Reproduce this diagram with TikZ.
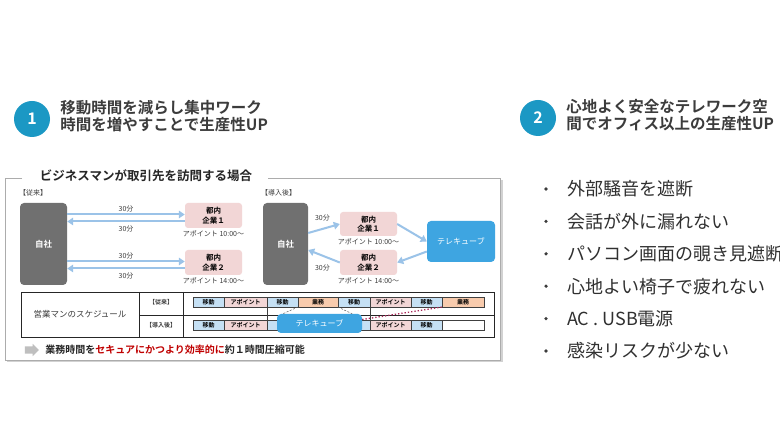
\documentclass[tikz,border=0pt]{standalone}
\usepackage{fontspec}
\setmainfont{Noto Sans CJK JP}[BoldFont={Noto Sans CJK JP Bold}]
\usepackage{tikz}
\usetikzlibrary{positioning, arrows.meta, shapes.arrows}
\definecolor{Ink}{RGB}{60,60,60}
\definecolor{Teal}{RGB}{27,152,196}
\definecolor{Base}{RGB}{112,112,112}
\definecolor{Firm}{RGB}{242,214,214}
\definecolor{Cube}{RGB}{62,165,225}
\definecolor{Link}{RGB}{155,195,232}
\definecolor{Move}{RGB}{197,224,244}
\definecolor{Work}{RGB}{248,203,173}
\definecolor{Crimson}{RGB}{192,0,0}
\definecolor{Plum}{RGB}{170,40,90}
\newcommand\fsz[2]{\fontsize{#1}{#2}\selectfont}
\tikzset{
	every node/.append style={
		inner sep=1pt,
	},
	num/.append style={
		circle,
		fill=Teal,
		text=white,
		inner sep=0pt,
		minimum size=36pt,
		font={\bfseries\fsz{16}{16}}
	},
	hdr/.append style={
		align=left,
		text=Ink,
		font={\bfseries\fsz{15.5}{16.5}}
	},
	dot/.append style={
		circle,
		fill=Ink,
		inner sep=0pt,
		minimum size=3.6pt
	},
	item/.append style={
		text=Ink!80!black,
		font=\fsz{18}{18}
	},
	frame/.append style={
		draw=gray!65,
		line width=0.8pt
	},
	base/.append style={
		rounded corners=4pt,
		fill=Base,
		text=white,
		minimum height=82pt,
		font={\bfseries\fsz{8.5}{10}}
	},
	firm/.append style={
		rounded corners=3pt,
		fill=Firm,
		align=center,
		minimum width=57pt,
		minimum height=25pt,
		font={\bfseries\fsz{7.5}{9.5}}
	},
	tcube/.append style={
		rounded corners=4pt,
		fill=Cube,
		text=white,
		font=\fsz{8}{9}
	},
	labe/.append style={
		text=Ink,
		font=\fsz{7}{8}
	},
	tag/.append style={
		text=Ink,
		font={\bfseries\fsz{6}{6}}
	},
	arr/.append style={
		draw=Link,
		line width=2pt,
		-{Triangle[length=6pt,width=7.5pt]}
	},
	tline/.append style={
		draw=black!85,
		line width=0.9pt
	},
	bar/.append style={
		draw=black!75,
		line width=0.6pt,
		anchor=west,
		inner sep=0pt,
		outer sep=0pt,
		minimum height=10pt,
		font={\bfseries\fsz{6}{6}}
	}
}

\begin{document}
\begin{tikzpicture}[x=1pt, y=-1pt]
\fill[white] (0,0) rectangle (780,438);
\useasboundingbox (0,0) rectangle (780,438);

% headings
\node[num] (n1) at (32,119) {1};
\node[hdr, right=9pt of n1, yshift=3pt] (h1) {移動時間を減らし集中ワーク\\時間を増やすことで生産性UP};
\node[num] (n2) at (538,118) {2};
\node[hdr, right=9pt of n2, yshift=3pt] (h2) {心地よく安全なテレワーク空\\間でオフィス以上の生産性UP};

% points of the booth
\foreach \t [count=\i from 0] in {外部騒音を遮断, 会話が外に漏れない, パソコン画面の覗き見遮断, 心地よい椅子で疲れない, AC . USB電源, 感染リスクが少ない}{
	\node[dot] (d\i) at (546,{189+32.4*\i}) {};
	\node[item, right=20pt of d\i.center] (i\i) {\t};
}

% frame
\draw[gray!35, line width=2pt] (501.5,180) -- (501.5,361.5) -- (7,361.5);
\draw[frame] (22,178) -- (5,178) -- (5,360) -- (500,360) -- (500,178) -- (268,178);
\node[font={\bfseries\fsz{12.5}{13}}, text=black!85] (ttl) at (146,176) {ビジネスマンが取引先を訪問する場合};

% before
\node[labe, anchor=west] (old) at (18,193) {【従来】};
\node[base, minimum width=47pt] (ja) at (43.5,244) {自社};
\node[firm] (k1a) at (213.5,215.5) {都内\\企業１};
\node[firm] (k2a) at (213.5,262.5) {都内\\企業２};
\node[labe, below=1pt of k1a] (p1a) {アポイント 10:00〜};
\node[labe, below=1pt of k2a] (p2a) {アポイント 14:00〜};

\draw[arr] ([yshift=1pt]k1a.west -| ja.east) -- ([yshift=1pt]k1a.west) node[labe, midway, above=0pt]{30分};
\draw[arr] ([yshift=-6pt]k1a.west) -- ([yshift=-6pt]k1a.west -| ja.east) node[labe, midway, below=2pt]{30分};
\draw[arr] ([yshift=1pt]k2a.west -| ja.east) -- ([yshift=1pt]k2a.west) node[labe, midway, above=0pt]{30分};
\draw[arr] ([yshift=-6pt]k2a.west) -- ([yshift=-6pt]k2a.west -| ja.east) node[labe, midway, below=2pt]{30分};

% after
\node[labe, anchor=west] (new) at (260,193) {【導入後】};
\node[base, minimum width=45pt] (jb) at (285.5,244) {自社};
\node[firm, minimum height=24pt] (k1b) at (368.5,224) {都内\\企業１};
\node[firm] (k2b) at (368.5,262.5) {都内\\企業２};
\node[labe, below=1pt of k1b] (p1b) {アポイント 10:00〜};
\node[labe, below=1pt of k2b] (p2b) {アポイント 14:00〜};
\node[tcube, minimum width=68pt, minimum height=41pt] (tc) at (461,241.5) {テレキューブ};

\draw[arr] ([yshift=11pt]jb.east) -- (k1b.west) node[labe, pos=0.45, above=6pt]{30分};
\draw[arr] (k1b.east) -- (tc.west);
\draw[arr] ([yshift=-10pt]tc.west) -- (k2b.east);
\draw[arr] (k2b.west) -- ([yshift=-6pt]jb.east) node[labe, pos=0.55, below=7pt]{30分};

% schedule
\draw[tline] (21,292) rectangle (494,337);
\draw[tline] (139,292) -- (139,337) (183,292) -- (183,337) (139,315) -- (494,315);
\node[text=Ink, font=\fsz{8.5}{9}] (sch) at (80,314) {営業マンのスケジュール};
\node[tag] (t1) at (161,302) {【従来】};
\node[tag] (t2) at (161,325) {【導入後】};

\foreach \a/\b/\c/\t [count=\i] in {193/224/Move/移動, 224/267/Firm/アポイント, 267/298/Move/移動, 298/338/Work/業務, 338/370/Move/移動, 370/411/Firm/アポイント, 411/442/Move/移動, 442/484/Work/業務}
	\node[bar, fill=\c, minimum width={(\b-\a)*1pt}] (r1-\i) at (\a,302) {\t};
\foreach \a/\b/\c/\t [count=\i] in {193/224/Move/移動, 224/267/Firm/アポイント, 267/370/Move/{}, 370/411/Firm/アポイント, 411/442/Move/移動, 442/484/white/{}}
	\node[bar, fill=\c, minimum width={(\b-\a)*1pt}] (r2-\i) at (\a,325) {\t};

\draw[black!75, line width=0.5pt] (r1-3.south west) -- (r2-3.north west);
\draw[black!75, line width=0.5pt] (r1-6.south west) -- (r2-4.north west);
\node[tcube, minimum width=85pt, minimum height=19pt] (sc) at (319.5,323.5) {テレキューブ};
\draw[gray!70!black, line width=0.5pt, dash pattern=on 2pt off 1.5pt] (r1-4.south west) -- ([xshift=6pt]sc.north west);
\draw[gray!70!black, line width=0.5pt, dash pattern=on 2pt off 1.5pt] (r1-4.south east) -- ([xshift=-10pt]sc.north east);
\draw[Plum, dotted, line width=1.3pt] ([yshift=4pt]sc.east) -- (r1-8.south west);

% result
\node[single arrow, fill=gray!50, inner xsep=5pt, inner ysep=3.5pt, single arrow head extend=2.5pt] (ic) at (30,350) {};
\node[right=5pt of ic, font={\bfseries\fsz{10}{10}}, text=black!85] (msg) {業務時間を\textcolor{Crimson}{セキュアにかつより効率的に}約１時間圧縮可能};
\end{tikzpicture}
\end{document}
